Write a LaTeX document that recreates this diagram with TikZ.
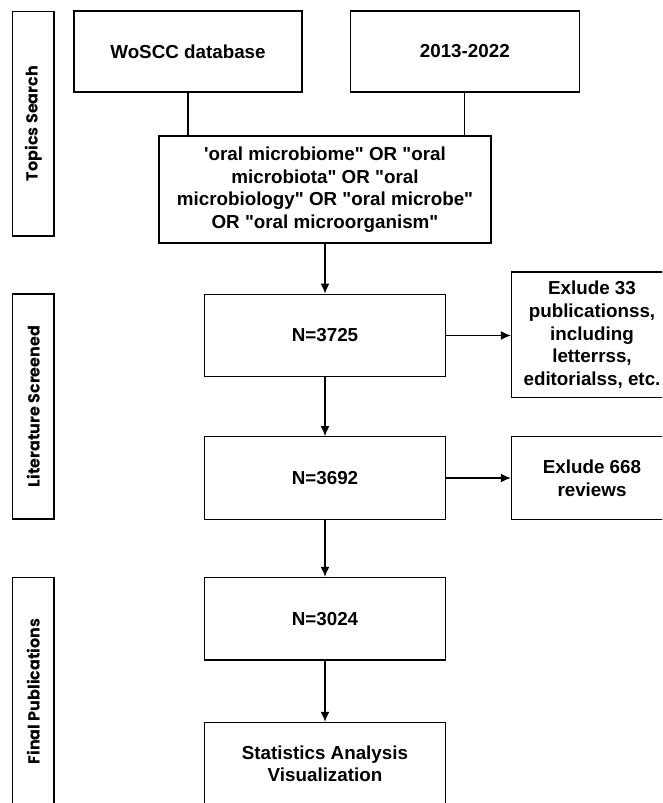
\documentclass[tikz,border=0pt]{standalone}
\usepackage{fontspec}
\usepackage{tikz}
\usetikzlibrary{arrows.meta}
\newfontfamily\boxfont{Liberation Sans}
\newfontfamily\sidefont{Poppins}

\begin{document}
\begin{tikzpicture}[x=1pt,y=-1pt,line width=1.3pt,>={Latex[length=10pt,width=9pt]},
  box/.style={draw=black,inner sep=2pt,align=center,font=\boxfont\bfseries\fontsize{18.8}{22.6}\selectfont},
  nbox/.style={box,minimum width=240.6pt,minimum height=82.6pt},
  exbox/.style={box,minimum width=161pt},
  side/.style={draw=black,rotate=90,minimum height=41.3pt,inner sep=0pt,font=\sidefont\bfseries\fontsize{16}{19}\selectfont}]
\useasboundingbox (0,0) rectangle (662,803);
\clip (0,0) rectangle (662,803);

% Topics Search
\node[side,minimum width=224.7pt] (TS) at (33.3,123.5) {Topics Search};
\draw (188,51.5) node[box,minimum width=228pt,minimum height=81pt] (WOS) {WoSCC database} +(276.8,0) node[box,minimum width=229pt,minimum height=81pt] (YR) {2013-2022};
\node[box,minimum width=332pt,minimum height=107pt] (Q) at (325,189.5) {'oral microbiome" OR "oral\\microbiota" OR "oral\\microbiology" OR "oral microbe"\\OR "oral microorganism"};
\draw (WOS.south) -- (WOS.south |- Q.north);
\draw (YR.south) -- (YR.south |- Q.north);

% Literature Screened / Final Publications
\node[side,minimum width=225pt] (LS) at (33.3,406.5) {Literature Screened};
\node[side,minimum width=227.3pt] (FP) at (33.3,691.4) {Final Publications};
\draw (325,335.5) node[nbox] (N1) {N=3725} +(0,142.5) node[nbox] (N2) {N=3692} +(0,283.3) node[nbox] (N3) {N=3024} +(0,428.2) node[nbox] (SA) {Statistics Analysis\\Visualization};
\node[exbox,minimum height=125.5pt] (EX1) at (592,334.8) {Exlude 33\\publicationss,\\including\\letterrss,\\editorialss, etc.};
\node[exbox,minimum height=82.6pt] (EX2) at (592,478) {Exlude 668\\reviews};

\draw[->] (Q) -- (N1);
\draw[->] (N1) -- (N2);
\draw[->] (N2) -- (N3);
\draw[->] (N3) -- (SA);
\draw[->] (N1.east) -- (N1.east -| EX1.west);
\draw[->] (N2.east) -- (N2.east -| EX2.west);
\end{tikzpicture}
\end{document}
